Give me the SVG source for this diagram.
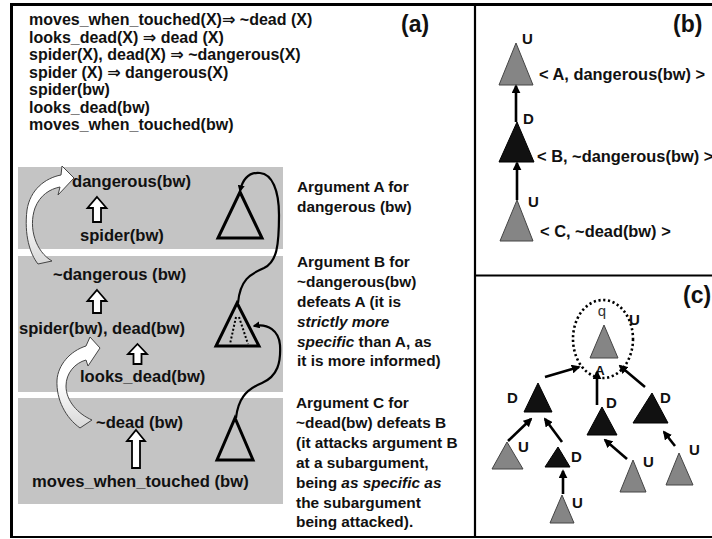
<svg xmlns="http://www.w3.org/2000/svg" width="712" height="539" viewBox="0 0 712 539">
<defs>
<style>
text{font-family:"Liberation Sans","DejaVu Sans",Arial,sans-serif;font-weight:bold;fill:#111}
.r{font-size:16px}
.p{font-size:16.6px}
.t{font-size:15.4px}
.bl{font-size:16.4px}
.big{font-size:23px}
.lab{font-size:15px}
.it{font-style:italic}
.panel{fill:#c4c4c4}
.otri{fill:none;stroke:#000;stroke-width:3;stroke-linejoin:miter}
.hol{fill:#fff;stroke:#000;stroke-width:1.8;stroke-linejoin:miter}
.gtri{fill:#858585;stroke:#444;stroke-width:1}
.btri{fill:#111;stroke:#000;stroke-width:1}
.arr{stroke:#000;stroke-width:2.6;fill:none;marker-end:url(#ah)}
.curve{fill:none;stroke:#000;stroke-width:2.2}
.warr{fill:url(#wg);stroke:#444;stroke-width:1}
.frame{stroke:#000;fill:none}
</style>
<marker id="ah" viewBox="0 0 10 10" refX="8" refY="5" markerWidth="9" markerHeight="9" markerUnits="userSpaceOnUse" orient="auto">
<path d="M0,0 L10,5 L0,10 z" fill="#000"/>
</marker>
<marker id="sh" viewBox="0 0 10 10" refX="8" refY="5" markerWidth="7" markerHeight="7" markerUnits="userSpaceOnUse" orient="auto-start-reverse">
<path d="M0,0 L10,5 L0,10 z" fill="#000"/>
</marker>
<linearGradient id="wg" x1="0" y1="0" x2="0" y2="1">
<stop offset="0" stop-color="#fff"/>
<stop offset="0.5" stop-color="#fff"/>
<stop offset="1" stop-color="#d8d8d8"/>
</linearGradient>
</defs>
<rect width="712" height="539" fill="#fff"/>

<!-- frame -->
<g id="frame">
<line class="frame" x1="10" y1="4.5" x2="712" y2="4.5" stroke-width="3"/>
<line class="frame" x1="11.5" y1="3" x2="11.5" y2="538" stroke-width="3"/>
<line class="frame" x1="10" y1="537" x2="712" y2="537" stroke-width="2"/>
<line class="frame" x1="475" y1="4" x2="475" y2="537" stroke-width="2.2"/>
<line class="frame" x1="475" y1="275.5" x2="712" y2="275.5" stroke-width="2"/>
</g>

<!-- (a) rules -->
<g id="rules">
<text class="r" x="29" y="25">moves_when_touched(X)⇒ ~dead (X)</text>
<text class="r" x="29" y="42.5">looks_dead(X) ⇒ dead (X)</text>
<text class="r" x="29" y="60">spider(X),  dead(X) ⇒ ~dangerous(X)</text>
<text class="r" x="29" y="77.5">spider (X) ⇒ dangerous(X)</text>
<text class="r" x="29" y="95">spider(bw)</text>
<text class="r" x="29" y="112.5">looks_dead(bw)</text>
<text class="r" x="29" y="130">moves_when_touched(bw)</text>
<text class="big" x="401" y="32">(a)</text>
</g>

<!-- panels -->
<g id="panels">
<rect class="panel" x="18" y="167" width="265" height="82"/>
<rect class="panel" x="18" y="256" width="265" height="136"/>
<rect class="panel" x="18" y="398" width="265" height="106"/>
</g>

<g id="argA">
<text class="p" x="72" y="187">dangerous(bw)</text>
<polygon class="hol" points="97,197 106.5,208 101,208 101,222 93,222 93,208 87.5,208"/>
<text class="p" x="80" y="241">spider(bw)</text>
<polygon class="otri" points="240,192 262,238 218,238"/>
</g>

<g id="argB">
<text class="p" x="53" y="280">~dangerous (bw)</text>
<polygon class="hol" points="97,290 106.5,301 101,301 101,313 93,313 93,301 87.5,301"/>
<text class="p" x="19" y="334">spider(bw), dead(bw)</text>
<polygon class="hol" points="137.5,344 147,354 141.5,354 141.5,364 133.5,364 133.5,354 128,354"/>
<text class="p" x="80" y="382">looks_dead(bw)</text>
<polygon class="otri" points="237,303 259,346 216,346"/>
<path d="M236,317 L230,344 M239,317 L248,344" stroke="#000" stroke-width="2" stroke-dasharray="2 2" fill="none"/>
</g>

<g id="argC">
<text class="p" x="96" y="428">~dead (bw)</text>
<polygon class="hol" points="136,430 145,441 140,441 140,468 132,468 132,441 127,441"/>
<text class="p" x="32" y="487">moves_when_touched (bw)</text>
<polygon class="otri" points="235,418 253,460 217,460"/>
</g>

<g id="connectors-a">
<path class="curve" d="M238,303 C240,280 250,274 264,268 C277,262 279,245 279,215 C279,190 272,174 260,173 C250,172 243,178 240,191" marker-end="url(#sh)"/>
<path class="curve" d="M236,418 C238,400 245,390 262,383 C278,376 281,362 280,345 C279,331 268,323 254,326" marker-end="url(#sh)"/>
<path class="warr" d="M52,261 C36,252 28,228 35,208 C40,195 50,189 60,187 L58,195 L74,178 L62,166 L61,175 C45,178 30,190 27,210 C24,235 30,254 38,264 Z"/>
<path class="warr" d="M92,420 C78,414 66,401 66,386 C66,373 75,363 86,360 L88,366 L100,348 L90,337 L86,346 C70,351 58,365 57,380 C56,400 66,418 80,428 Z"/>
</g>

<g id="explanations">
<text class="t" x="297" y="192">Argument  A for</text>
<text class="t" x="297" y="212">dangerous (bw)</text>
<text class="t" x="297" y="267">Argument B for</text>
<text class="t" x="297" y="287">~dangerous(bw)</text>
<text class="t" x="297" y="307">defeats A (it is</text>
<text class="t it" x="297" y="327">strictly more</text>
<text class="t" x="297" y="347"><tspan class="it">specific</tspan> than A, as</text>
<text class="t" x="297" y="366">it is more informed)</text>
<text class="t" x="296" y="408">Argument C for</text>
<text class="t" x="296" y="428">~dead(bw) defeats B</text>
<text class="t" x="296" y="448">(it attacks argument B</text>
<text class="t" x="296" y="468">at a subargument,</text>
<text class="t" x="296" y="488">being <tspan class="it">as specific as</tspan></text>
<text class="t" x="296" y="508">the subargument</text>
<text class="t" x="296" y="527">being attacked).</text>
</g>

<!-- (b) -->
<g id="b-title"><text class="big" x="673" y="32">(b)</text></g>
<g id="b-A">
<polygon class="gtri" points="516,43 533,85 499,85"/>
<text class="lab" x="522" y="44">U</text>
<text class="bl" x="539" y="80">&lt; A, dangerous(bw) &gt;</text>
</g>
<g id="b-B">
<polygon class="btri" points="517,122 534,162 499,162"/>
<text class="lab" x="523" y="124">D</text>
<text class="bl" x="537" y="162">&lt; B, ~dangerous(bw) &gt;</text>
</g>
<g id="b-C">
<polygon class="gtri" points="517,200 533,241 500,241"/>
<text class="lab" x="528" y="207">U</text>
<text class="bl" x="540" y="237">&lt; C, ~dead(bw) &gt;</text>
</g>
<g id="connectors-b">
<line class="arr" x1="516" y1="122" x2="516" y2="86"/>
<line class="arr" x1="517" y1="200" x2="517" y2="163"/>
</g>

<!-- (c) -->
<g id="c-title"><text class="big" x="683" y="303">(c)</text></g>
<g id="c-root">
<ellipse cx="603" cy="339" rx="30" ry="39" fill="none" stroke="#000" stroke-width="2.6" stroke-dasharray="2.2 2.6"/>
<polygon class="gtri" points="604,325 618,358 590,358"/>
<text x="602" y="316" text-anchor="middle" style="font-size:15px;font-weight:normal;fill:#333">q</text>
<text class="lab" x="629" y="325">U</text>
<text x="600" y="375" text-anchor="middle" style="font-size:13px">A</text>
</g>
<g id="c-D1">
<polygon class="btri" points="538,383 552,412 524,412"/>
<text class="lab" x="507" y="403">D</text>
</g>
<g id="c-D2">
<polygon class="btri" points="602,407 617,435 587,435"/>
<text class="lab" x="606" y="408">D</text>
</g>
<g id="c-D3">
<polygon class="btri" points="652,393 668,423 633,423"/>
<text class="lab" x="660" y="403">D</text>
</g>
<g id="c-D4">
<polygon class="btri" points="558,447 570,467 545,467"/>
<text class="lab" x="571" y="462">D</text>
</g>
<g id="c-U1">
<polygon class="gtri" points="507,442 523,469 492,469"/>
<text class="lab" x="518" y="452">U</text>
</g>
<g id="c-U2">
<polygon class="gtri" points="562,495 574,523 550,523"/>
<text class="lab" x="572" y="508">U</text>
</g>
<g id="c-U3">
<polygon class="gtri" points="633,460 646,492 620,492"/>
<text class="lab" x="643" y="467">U</text>
</g>
<g id="c-U4">
<polygon class="gtri" points="679,453 693,485 666,485"/>
<text class="lab" x="689" y="455">U</text>
</g>
<g id="connectors-c">
<line class="arr" x1="545" y1="377" x2="579" y2="367"/>
<line class="arr" x1="597" y1="405" x2="597" y2="372"/>
<line class="arr" x1="645" y1="387" x2="620" y2="366"/>
<line class="arr" x1="508" y1="441" x2="531" y2="419"/>
<line class="arr" x1="562" y1="442" x2="545" y2="419"/>
<line class="arr" x1="563" y1="494" x2="563" y2="471"/>
<line class="arr" x1="627" y1="459" x2="605" y2="440"/>
<line class="arr" x1="675" y1="446" x2="664" y2="432"/>
</g>
</svg>
